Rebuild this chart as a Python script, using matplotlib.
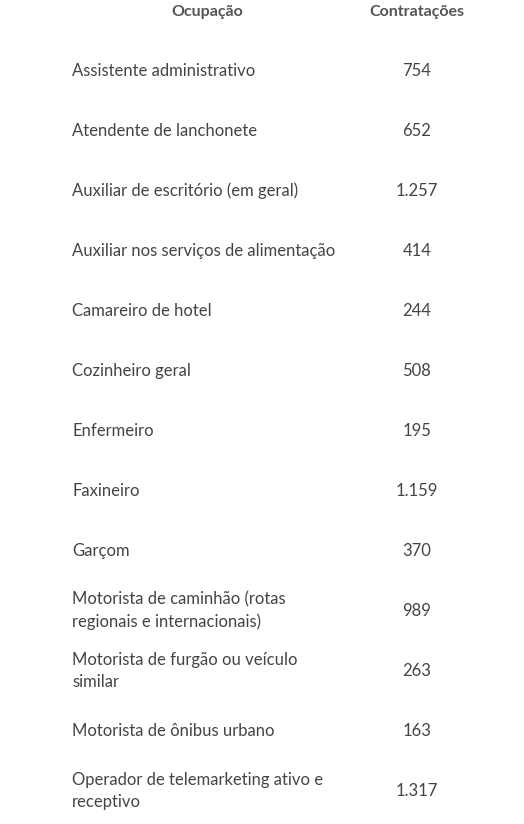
import matplotlib.pyplot as plt

ocupacoes = [
    "Assistente administrativo",
    "Atendente de lanchonete",
    "Auxiliar de escritório (em geral)",
    "Auxiliar nos serviços de alimentação",
    "Camareiro de hotel",
    "Cozinheiro geral",
    "Enfermeiro",
    "Faxineiro",
    "Garçom",
    "Motorista de caminhão (rotas\nregionais e internacionais)",
    "Motorista de furgão ou veículo\nsimilar",
    "Motorista de ônibus urbano",
    "Operador de telemarketing ativo e\nreceptivo",
]
contratacoes = ["754", "652", "1.257", "414", "244", "508", "195",
                "1.159", "370", "989", "263", "163", "1.317"]
headers = ["Ocupação", "Contratações"]

plt.rcParams['font.family'] = ['Lato', 'DejaVu Sans']
fig = plt.figure(figsize=(5.24, 8.24), dpi=100)
ax = fig.add_axes([0, 0, 1, 1])
ax.set_xlim(0, 524)
ax.set_ylim(824, 0)
ax.axis('off')

ax.text(207, 12, headers[0], ha='center', va='center', fontsize=11.5,
        fontweight='bold', color='#555555')
ax.text(417, 12, headers[1], ha='center', va='center', fontsize=11.5,
        fontweight='bold', color='#555555')

for i, (occ, n) in enumerate(zip(ocupacoes, contratacoes)):
    y = 71 + 60 * i
    ax.text(72, y, occ, ha='left', va='center', fontsize=12,
            color='#444444', linespacing=1.45)
    ax.text(417, y, n, ha='center', va='center', fontsize=12, color='#444444')

fig.savefig('out.png', dpi=100)
